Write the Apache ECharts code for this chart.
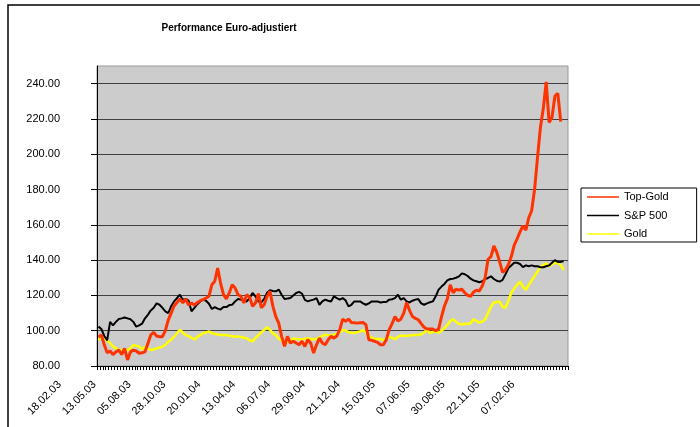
<!DOCTYPE html>
<html>
<head>
<meta charset="utf-8">
<script src="https://cdn.jsdelivr.net/npm/echarts@6/dist/echarts.min.js"></script>
<style>
html,body{margin:0;padding:0;background:#fff;}
#chart{width:700px;height:427px;}
</style>
</head>
<body>
<div id="chart"></div>
<script>
// ---- data ----
const tickLabels = ['18.02.03','13.05.03','05.08.03','28.10.03','20.01.04','13.04.04','06.07.04','29.09.04','21.12.04','15.03.05','07.06.05','30.08.05','22.11.05','07.02.06'];
const weekCount = 162;
const yTickValues = [80,100,120,140,160,180,200,220,240];
const seriesNames = ['Top-Gold','S&P 500','Gold'];

const topGold = [
96.5,97.6,92,87.5,88.5,86.5,88,89,86.5,90,
83.4,88,89,88.5,87.2,87.5,88,92.8,97.6,99,
97,96.6,96.6,100,106,110,114,116,118,115.7,
118,114.5,115.7,114.5,116,117,117.6,118.5,119.5,126,
128,135.5,127,120.4,118,121.4,126,124.2,120.4,119.5,
115.7,120.4,119,113.8,115.7,121,113,114.7,119.5,122.3,
113.8,108,104.3,96.8,91.1,96.8,93,94,93,92,
94,91.1,94.9,93,87.3,92,95.8,93,92,94.9,
96.8,95.8,97,100.6,106.6,105.3,106.6,104.7,104.5,104.3,
104.5,104.7,103.4,94.9,94.5,94,93.4,92,92,94.9,
100.6,104,108,105.5,106.5,110,116,111.5,108,107,
106.2,104,102,101,101,101,100,101,108,114,
118,126,121.5,123.5,123,123.5,121.5,120,119.5,121.8,
123,122.5,125.4,130,140.5,142,148,144.5,139,133,
134.5,137.5,142,148.5,152,156,159.5,157,164,168,
180,198,215,226,241,218,221,233,234.5,218.5
];

const sp500 = [
102.3,101,97,94.5,105,103,105,106.6,107,107.5,
107,106.5,105,102.3,103,104,107,109,111.5,113,
115.5,114.7,113,111,110,113.8,116.6,118.5,120.4,117.6,
118,117,111,112.9,115,116.6,117.6,117,115.3,112.3,
113.4,112.5,112,113.4,113.4,114.5,114.7,116.6,118,117.6,
117,116.6,118.5,121.4,119.5,116.6,116,118,121.5,122.9,
122.5,122.3,123.3,120.4,118,118.2,118.5,120,121.4,122,
121,117.5,116.6,117.2,117.6,118.5,114.7,116.6,117.6,117,
116.6,119.5,118.5,117.6,118.5,117.2,113.8,114.7,116.6,116.6,
116.6,115.5,114.7,115.5,116.6,116.6,116.6,116,116.2,116.3,
117.6,117.8,118.5,120.4,117.6,118.5,116.6,116,117,117.6,
118,115.5,114.7,115.5,116.1,116.6,119.5,123.3,125,126.5,
128.5,129.3,129.5,130,130.8,132.5,132,131,129.5,128.5,
128,127.5,128,129.3,129.9,130.8,129.3,128.3,127.8,128.8,
132,135.5,137,138.5,138.5,137.8,136,137,136.5,137,
136.5,136.5,136,136,136.5,137,138.5,140,139,139,
139.3
];

const gold = [
94.7,96.6,95.7,94.5,93,91,90,89,89,89,
89,90,91.9,91.5,91,89.4,91,90,89,89.5,
90,90.5,91,91.9,93.8,95,96.6,98.5,100.6,99,
97.5,97,96,95,96.5,97.5,98.7,99,99.6,98.5,
98.3,97.8,97.5,97.5,97.5,97.2,97,96.5,96.8,96.4,
96,95.8,94.5,94,95.8,97.5,99,100.5,102,100.5,
98.5,97.5,95.5,94.5,93,93.5,94.5,95.5,95.5,95,
95.2,95.3,95.8,95.3,95,95.5,96.2,97,97.7,97.5,
97.2,97.8,98.3,99,100.3,100.2,99.1,98.9,98.7,99.2,
99.6,100.3,99,97,96,95.5,95.3,95.3,94.7,95.5,
96.5,96,95.2,96.5,97.3,97.2,97,97.3,97.5,97.5,
97.6,98,99,100.5,98.6,99.4,99.5,98.8,100,101.5,
103.3,105.5,106.5,105,103.8,103.6,103.8,104,104.2,106.5,
105.5,104.6,105.2,106.5,110,113.5,116,116.3,116.5,113.5,
113,117,121.5,124,126,127.8,125,123.1,126,128.5,
131,133.5,136,137.3,138.2,136.5,137.5,138.6,138.2,137.3,
134.4
];

// ---- chart ----
const categories = [];
for (let i = 0; i < weekCount; i++) categories.push(String(i));

const FONT = '"Liberation Sans", Arial, sans-serif';
const chart = echarts.init(document.getElementById('chart'), null, {renderer: 'canvas'});

chart.setOption({
  animation: false,
  backgroundColor: '#ffffff',
  textStyle: {fontFamily: FONT},
  title: {
    text: 'Performance Euro-adjustiert',
    left: 224, top: 18, textAlign: 'center',
    textStyle: {fontFamily: FONT, fontSize: 10, fontWeight: 'bold', color: '#000'}
  },
  graphic: [{
    type: 'rect', silent: true, z: -1,
    shape: {x: 8, y: 5, width: 800, height: 600},
    style: {fill: 'none', stroke: '#000', lineWidth: 1.5}
  }],
  legend: {
    orient: 'vertical',
    left: 581, top: 188,
    padding: [3, 28, 2, 6],
    itemGap: 6.5,
    icon: 'rect',
    itemWidth: 32, itemHeight: 1.5,
    backgroundColor: '#fff',
    borderColor: '#000', borderWidth: 1,
    textStyle: {fontFamily: FONT, fontSize: 11, color: '#000', lineHeight: 12},
    data: seriesNames
  },
  grid: {
    left: 97, right: 132, top: 66, bottom: 61,
    show: true, backgroundColor: '#cccccc', borderColor: '#999999', borderWidth: 1,
    containLabel: false, outerBoundsMode: 'none'
  },
  xAxis: {
    type: 'category',
    data: categories,
    boundaryGap: true,
    axisLine: {show: true, lineStyle: {color: '#000', width: 1}},
    axisTick: {show: true, interval: 0, length: 4, lineStyle: {color: '#000'}},
    splitLine: {show: false},
    axisLabel: {
      interval: 11,
      rotate: 45,
      margin: -22,
      align: 'right',
      verticalAlign: 'middle',
      padding: [0, 55, 0, 0],
      fontFamily: FONT, fontSize: 11, color: '#000',
      formatter: function (v, idx) {
        const k = idx / 12;
        return Number.isInteger(k) && tickLabels[k] ? tickLabels[k] : '';
      }
    }
  },
  yAxis: {
    type: 'value',
    min: 80, max: 250, interval: 20,
    axisLine: {show: true, lineStyle: {color: '#000', width: 1}},
    axisTick: {show: true, length: 6, lineStyle: {color: '#000'}, customValues: yTickValues},
    splitLine: {show: true, lineStyle: {color: '#404040', width: 1}},
    axisLabel: {
      margin: 37,
      fontFamily: FONT, fontSize: 11, color: '#000',
      customValues: yTickValues,
      formatter: function (v) { return v > 240 ? '' : v.toFixed(2); }
    }
  },
  series: [
    {name: seriesNames[0], type: 'line', data: topGold, symbol: 'none', showSymbol: false,
     color: '#ff3300', lineStyle: {color: '#ff3300', width: 3}, z: 4},
    {name: seriesNames[1], type: 'line', data: sp500, symbol: 'none', showSymbol: false,
     color: '#000000', lineStyle: {color: '#000000', width: 2}, z: 3},
    {name: seriesNames[2], type: 'line', data: gold, symbol: 'none', showSymbol: false,
     color: '#ffff00', lineStyle: {color: '#ffff00', width: 2.5}, z: 2}
  ]
});
</script>
</body>
</html>
